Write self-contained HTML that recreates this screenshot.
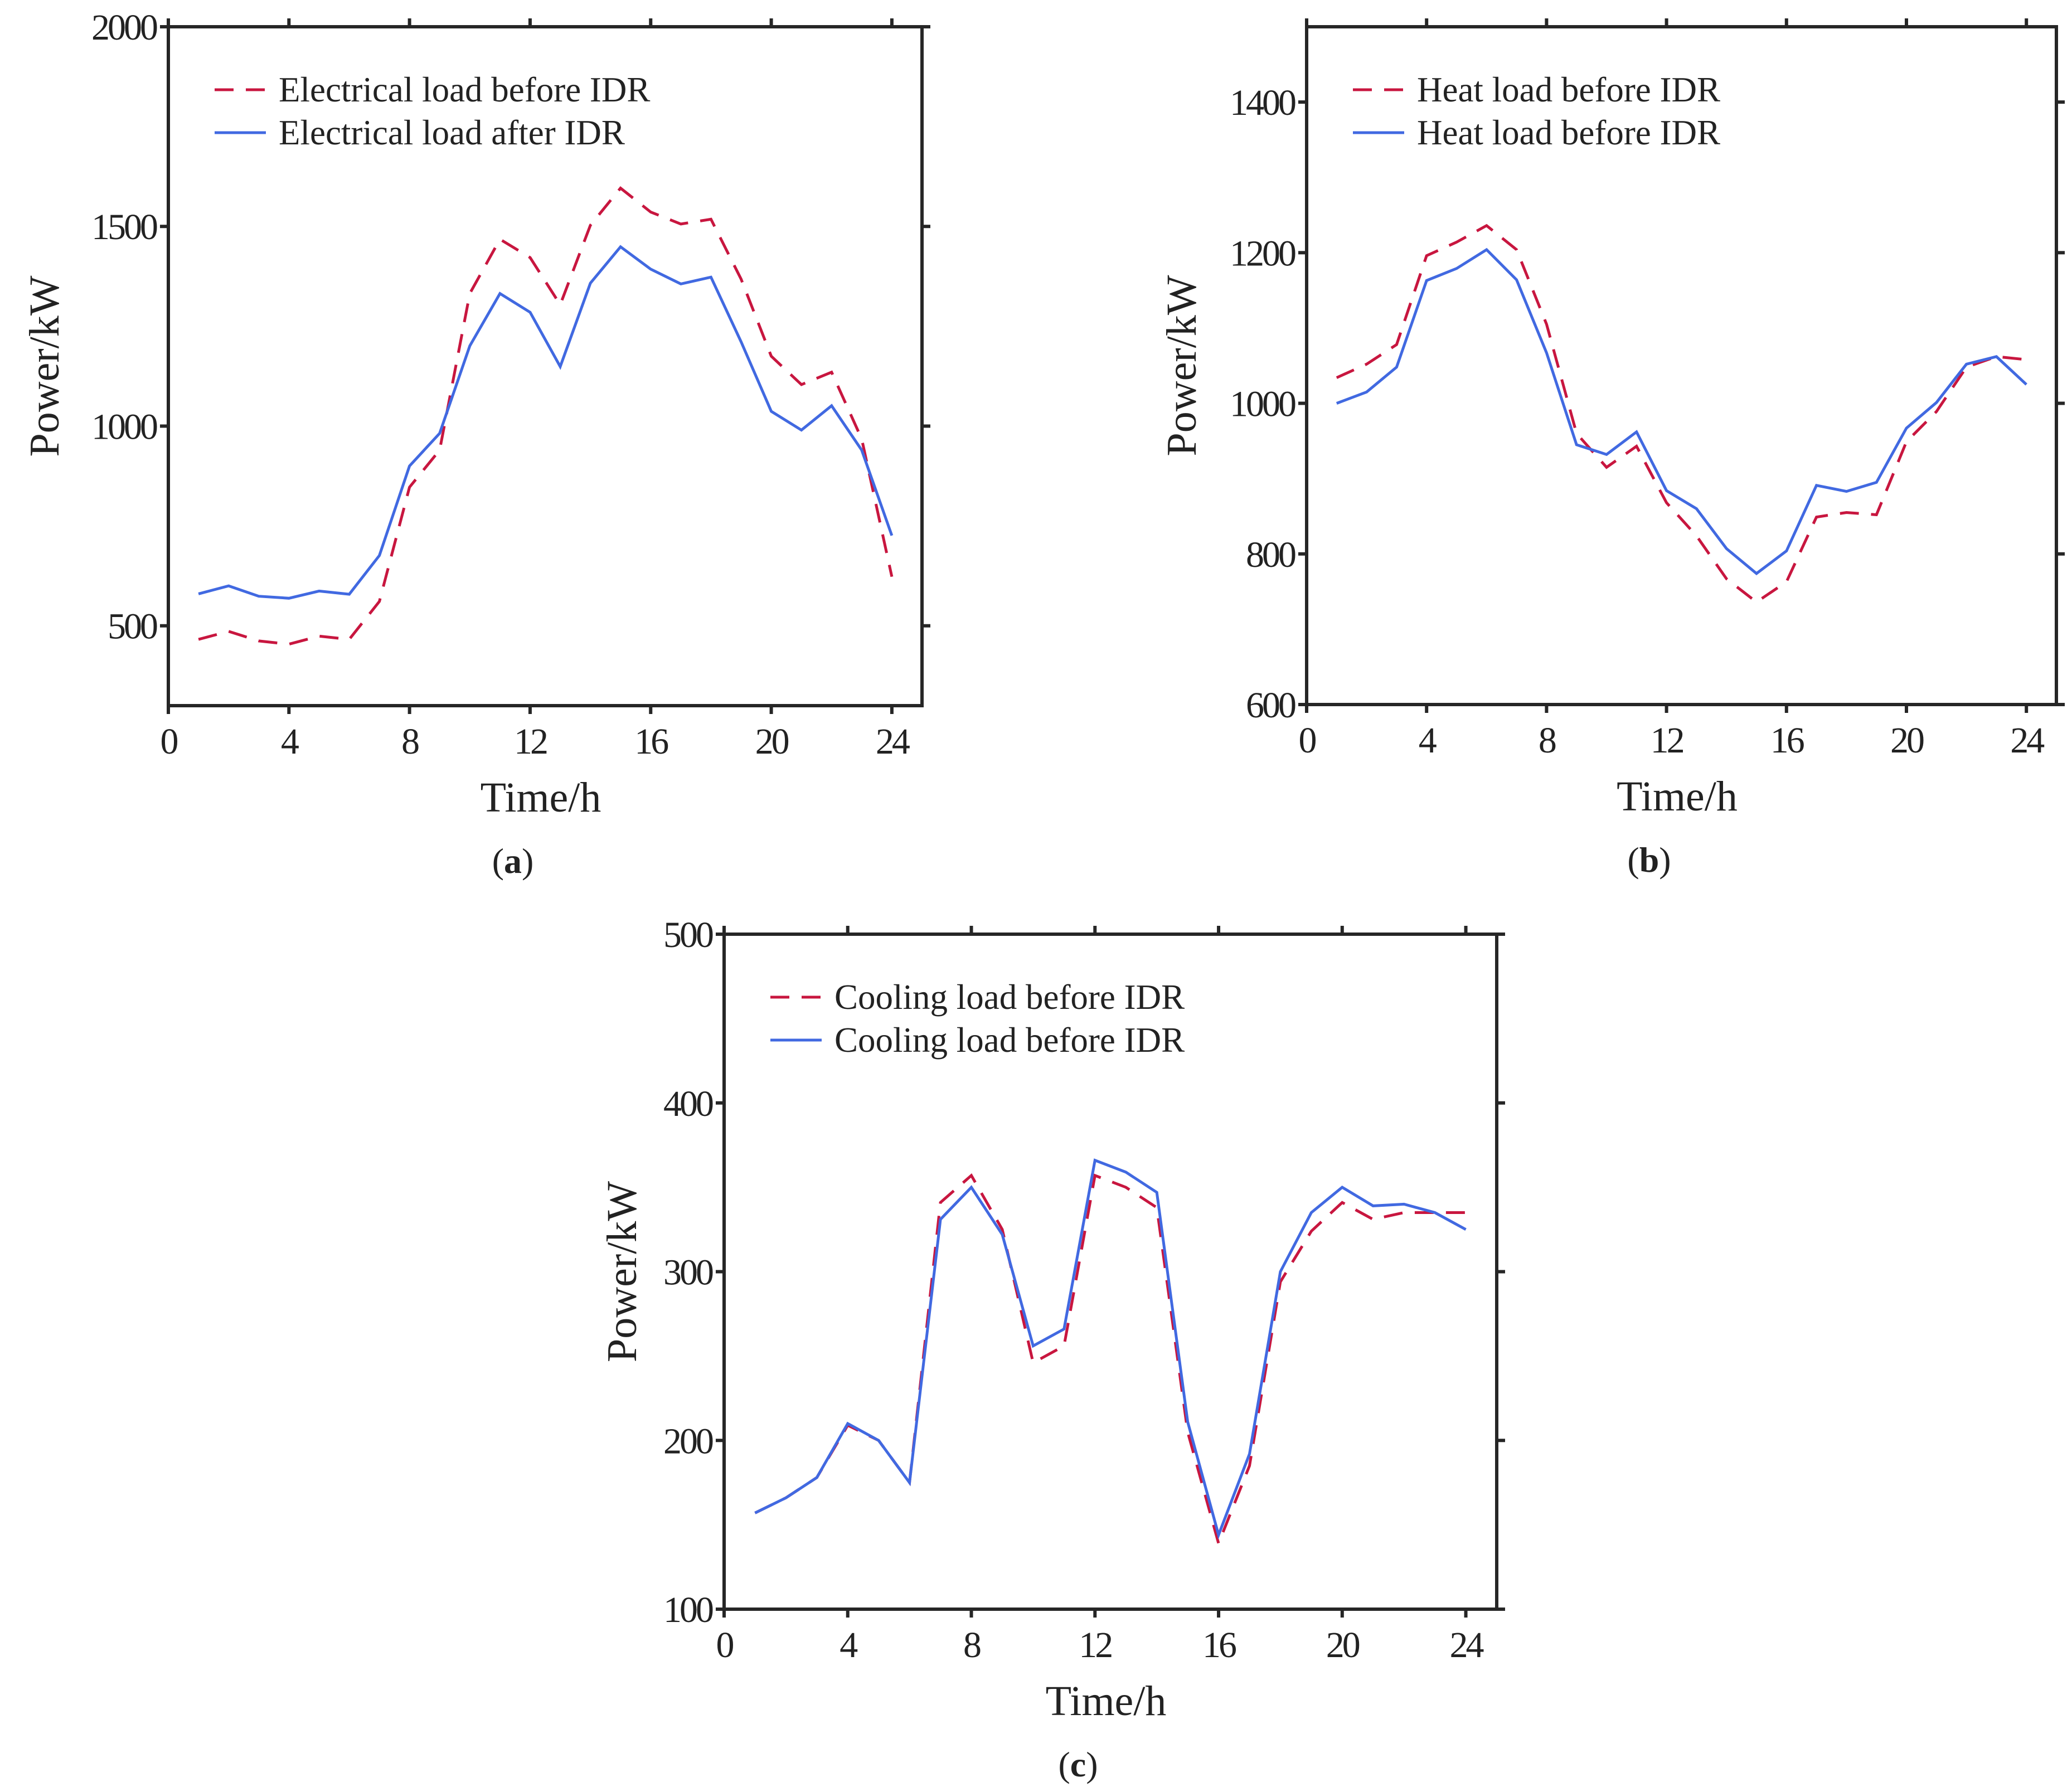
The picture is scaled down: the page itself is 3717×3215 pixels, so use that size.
<!DOCTYPE html>
<html><head><meta charset="utf-8"><style>
html,body{margin:0;padding:0;background:#fff}
svg{display:block}
text{font-family:"Liberation Serif",serif;fill:#222}
</style></head><body>
<svg id="fig" width="3717" height="3215" viewBox="0 0 3717 3215"></svg>
<script>
const hours = [1,2,3,4,5,6,7,8,9,10,11,12,13,14,15,16,17,18,19,20,21,22,23,24];
const xTicks = [0,4,8,12,16,20,24];
const elecBefore = [466,486,462,454,474,466,561,847,940,1332,1468,1422,1304,1503,1596,1536,1506,1518,1368,1175,1104,1135,968,623];
const elecAfter = [580,600,574,569,587,579,676,900,982,1201,1332,1285,1149,1358,1449,1393,1356,1373,1211,1037,990,1051,940,726];
const heatBefore = [1034,1052,1078,1196,1214,1236,1204,1105,960,915,943,868,824,767,736,763,849,855,852,949,989,1048,1062,1058];
const heatAfter = [1000,1015,1048,1163,1179,1204,1164,1067,945,932,962,884,860,807,774,804,891,883,895,967,1001,1052,1062,1025];
const coolBefore = [157,166,178,209,200,175,341,357,325,246,256,357,350,338,205,139,185,294,324,341,331,335,335,335];
const coolAfter = [157,166,178,210,200,175,331,350,322,256,266,366,359,347,211,144,192,300,335,350,339,340,335,325];
const elecTicks = [500,1000,1500,2000];
const heatTicks = [600,800,1000,1200,1400];
const coolTicks = [100,200,300,400,500];

const NS = "http://www.w3.org/2000/svg";
const svg = document.getElementById('fig');
function mk(tag, attrs, parent){
  const e = document.createElementNS(NS, tag);
  for (const k in attrs) e.setAttribute(k, attrs[k]);
  (parent||svg).appendChild(e);
  return e;
}
const RED = "#c8163f", BLUE = "#4169e1", AX = "#262626";

function panel(p){
  const g = mk('g', {});
  
  
  const xs = v => p.L + (v - 0) / 25 * (p.R - p.L);
  const ys = v => p.B - (v - p.ymin) / (p.ymax - p.ymin) * (p.B - p.T);
  const frame = mk('rect', {x:p.L, y:p.T, width:p.R-p.L, height:p.B-p.T, fill:'none', stroke:AX, 'stroke-width':6}, g);
  
  
  const TL = 15;
  xTicks.forEach(t => {
    const x = xs(t);
    mk('line', {x1:x, x2:x, y1:p.B, y2:p.B+TL, stroke:AX, 'stroke-width':6}, g);
    mk('line', {x1:x, x2:x, y1:p.T, y2:p.T-TL, stroke:AX, 'stroke-width':6}, g);
    const tx = mk('text', {x:x, y:p.B+86, 'font-size':66, 'text-anchor':'middle', 'letter-spacing':-4}, g);
    tx.textContent = t;
    
    
  });
  p.yticks.forEach(t => {
    const y = ys(t);
    mk('line', {x1:p.L, x2:p.L-TL, y1:y, y2:y, stroke:AX, 'stroke-width':6}, g);
    mk('line', {x1:p.R, x2:p.R+TL, y1:y, y2:y, stroke:AX, 'stroke-width':6}, g);
    const tx = mk('text', {x:p.L-22, y:y+23, 'font-size':66, 'text-anchor':'end', 'letter-spacing':-4}, g);
    tx.textContent = t;
    
    
  });
  function series(vals, color, dash, nm){
    const pts = hours.map((h,i) => xs(h).toFixed(1) + ',' + ys(vals[i]).toFixed(1)).join(' ');
    const a = {points:pts, fill:'none', stroke:color, 'stroke-width':5, 'stroke-linejoin':'miter'};
    if (dash) a['stroke-dasharray'] = '34 22';
    const pl = mk('polyline', a, g);
    
    
  }
  series(p.before, RED, true, 'series-before');
  series(p.after, BLUE, false, 'series-after');
  const lg = mk('g', {}, g);
  
  
  const lx = p.L + 83, ly1 = p.T + 113, ly2 = p.T + 190;
  mk('line', {x1:lx, x2:lx+92, y1:ly1, y2:ly1, stroke:RED, 'stroke-width':5, 'stroke-dasharray':'34 22'}, lg);
  mk('line', {x1:lx, x2:lx+92, y1:ly2, y2:ly2, stroke:BLUE, 'stroke-width':5}, lg);
  const t1 = mk('text', {x:lx+115, y:ly1+21, 'font-size':63}, lg); t1.textContent = p.leg1;
  
  
  const t2 = mk('text', {x:lx+115, y:ly2+21, 'font-size':63}, lg); t2.textContent = p.leg2;
  
  
  const xt = mk('text', {x:(p.L+p.R)/2 - 8, y:p.B+190, 'font-size':76, 'text-anchor':'middle'}, g);
  xt.textContent = 'Time/h';
  
  
  const cy = (p.T+p.B)/2;
  const yt = mk('text', {x:p.ytx, y:cy, 'font-size':76, 'text-anchor':'middle', transform:`rotate(-90 ${p.ytx} ${cy})`}, g);
  yt.textContent = 'Power/kW';
  
  
  const cap = mk('text', {x:(p.L+p.R)/2 - 58, y:p.B+300, 'font-size':64, 'text-anchor':'middle'}, g);
  cap.innerHTML = '(<tspan font-weight="bold">' + p.cap + '</tspan>)';
  
  
}
panel({name:'panel-a-electrical', L:302, R:1654, T:48, B:1266, ymin:300, ymax:2000, yticks:elecTicks, before:elecBefore, after:elecAfter, leg1:'Electrical load before IDR', leg2:'Electrical load after IDR', ytx:105, cap:'a'});
panel({name:'panel-b-heat', L:2344, R:3689, T:48, B:1264, ymin:600, ymax:1500, yticks:heatTicks, before:heatBefore, after:heatAfter, leg1:'Heat load before IDR', leg2:'Heat load before IDR', ytx:2145, cap:'b'});
panel({name:'panel-c-cooling', L:1299, R:2685, T:1676, B:2887, ymin:100, ymax:500, yticks:coolTicks, before:coolBefore, after:coolAfter, leg1:'Cooling load before IDR', leg2:'Cooling load before IDR', ytx:1141, cap:'c'});
</script>
</body></html>
